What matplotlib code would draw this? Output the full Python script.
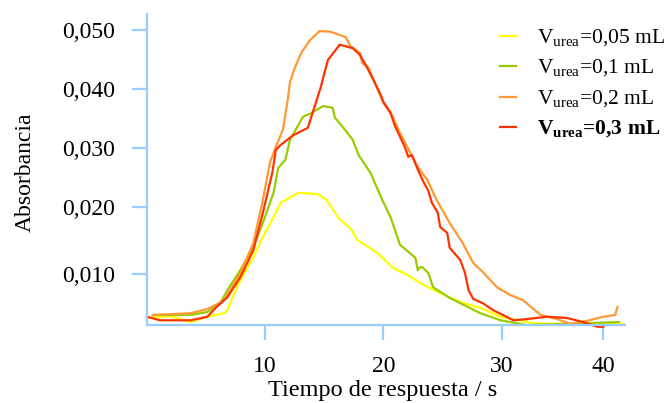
import matplotlib
matplotlib.use('Agg')
import matplotlib.pyplot as plt

plt.rcParams['font.family'] = ['Liberation Serif', 'DejaVu Serif']
plt.rcParams['mathtext.fontset'] = 'custom'
plt.rcParams['mathtext.rm'] = 'Liberation Serif'
plt.rcParams['mathtext.bf'] = 'Liberation Serif:bold'

# tiempo (s) / absorbancia
t_005 = [0.0, 2.0, 3.7, 5.1, 6.5, 6.8, 7.6, 7.9, 9.0, 9.8, 10.7, 11.3, 12.8, 14.4,
         15.2, 16.2, 17.2, 17.8, 19.5, 20.8, 22.0, 23.4, 24.8, 26.5, 28.2, 29.9,
         32.7, 34.9, 37.5, 40.3]
a_005 = [0.0012, 0.0015, 0.0005, 0.0014, 0.0020, 0.0025, 0.0064, 0.0076, 0.0115,
         0.0149, 0.0183, 0.0207, 0.0224, 0.0222, 0.0212, 0.0181, 0.0164, 0.0144,
         0.0122, 0.0097, 0.0085, 0.0068, 0.0054, 0.0039, 0.0029, 0.0014, 0.0003,
         0.0002, 0.0002, 0.0002]

t_01 = [0.5, 3.7, 5.1, 6.2, 6.8, 7.9, 9.0, 9.8, 10.7, 11.1, 11.7, 12.1, 13.2, 13.8,
        14.9, 15.7, 15.9, 16.3, 17.4, 17.9, 18.9, 19.9, 20.6, 21.4, 22.7, 22.9,
        23.1, 23.3, 23.8, 24.2, 25.6, 27.1, 28.2, 29.9, 32.1, 35.5, 39.9]
a_01 = [0.0017, 0.0017, 0.0022, 0.0037, 0.0059, 0.0093, 0.0132, 0.0173, 0.0224,
        0.0266, 0.0280, 0.0314, 0.0353, 0.0358, 0.0371, 0.0368, 0.0351, 0.0342,
        0.0314, 0.0288, 0.0258, 0.0212, 0.0183, 0.0136, 0.0114, 0.0093, 0.0098,
        0.0098, 0.0088, 0.0064, 0.0046, 0.0031, 0.0020, 0.0008, 0.0000, 0.0002,
        0.0005]

t_02 = [0.5, 3.7, 5.1, 6.2, 6.6, 7.9, 9.0, 9.8, 10.4, 10.9, 11.5, 11.9, 12.1, 12.5,
        13.1, 13.8, 14.6, 15.5, 16.8, 17.2, 18.0, 18.2, 18.7, 19.1, 20.0, 20.6,
        21.4, 22.0, 22.9, 23.7, 24.5, 25.6, 26.7, 27.6, 28.4, 29.6, 30.7, 31.8,
        33.3, 34.7, 35.8, 37.2, 38.6, 39.6, 39.8]
a_02 = [0.0017, 0.0020, 0.0027, 0.0038, 0.0044, 0.0088, 0.0139, 0.0212, 0.0275,
        0.0302, 0.0331, 0.0381, 0.0412, 0.0436, 0.0463, 0.0483, 0.0498, 0.0497,
        0.0488, 0.0473, 0.0461, 0.0444, 0.0437, 0.0419, 0.0376, 0.0361, 0.0325,
        0.0302, 0.0268, 0.0246, 0.0212, 0.0173, 0.0139, 0.0105, 0.0090, 0.0064,
        0.0051, 0.0042, 0.0017, 0.0010, 0.0002, 0.0007, 0.0014, 0.0017, 0.0031]

t_03 = [0.0, 1.1, 3.7, 5.1, 5.9, 6.8, 7.9, 9.0, 9.8, 10.6, 10.9, 11.3, 12.4, 13.6,
        14.0, 14.7, 15.3, 16.3, 17.4, 18.0, 18.6, 19.1, 19.7, 20.0, 20.6, 21.0,
        21.8, 22.1, 22.4, 22.9, 23.3, 23.8, 24.1, 24.6, 24.8, 25.4, 25.6, 26.5,
        26.9, 27.2, 27.6, 28.4, 29.3, 31.0, 32.1, 33.8, 35.5, 36.9, 38.1, 38.6]
a_03 = [0.0014, 0.0008, 0.0008, 0.0014, 0.0031, 0.0047, 0.0081, 0.0127, 0.0190,
        0.0258, 0.0297, 0.0305, 0.0322, 0.0334, 0.0359, 0.0403, 0.0449, 0.0475,
        0.0469, 0.0458, 0.0437, 0.0417, 0.0393, 0.0378, 0.0359, 0.0336, 0.0302,
        0.0285, 0.0288, 0.0264, 0.0246, 0.0227, 0.0207, 0.0190, 0.0166, 0.0156,
        0.0131, 0.0110, 0.0088, 0.0059, 0.0044, 0.0037, 0.0025, 0.0008, 0.0010,
        0.0014, 0.0012, 0.0005, -0.0003, -0.0003]

labels = [r'V$_{\mathrm{urea}}$=0,05 mL', r'V$_{\mathrm{urea}}$=0,1 mL',
          r'V$_{\mathrm{urea}}$=0,2 mL', r'V$_{\mathbf{urea}}$=0,3 mL']
colors = ['#FFFF00', '#99CC00', '#FF9933', '#FF3300']

xtick_pos = [10, 20, 30, 38.6]
xtick_labels = ['10', '20', '30', '40']
ytick_pos = [0.0086, 0.020, 0.030, 0.040, 0.050]
ytick_labels = ['0,010', '0,020', '0,030', '0,040', '0,050']

fig = plt.figure(figsize=(6.66, 4.03), dpi=100)
ax = fig.add_axes([0.2207, 0.1935, 0.7177, 0.7718])

series = [(t_005, a_005), (t_01, a_01), (t_02, a_02), (t_03, a_03)]
for (t, a), c, lab in zip(series, colors, labels):
    ax.plot(t, a, color=c, lw=1.6, label=lab, clip_on=False)

ax.set_xlim(0, 40.43)
ax.set_ylim(0, 0.0527)
ax.set_xticks(xtick_pos)
ax.set_xticklabels(xtick_labels)
ax.set_yticks(ytick_pos)
ax.set_yticklabels(ytick_labels)

for s in ['top', 'right']:
    ax.spines[s].set_visible(False)
for s in ['left', 'bottom']:
    ax.spines[s].set_color('#99CCFF')
    ax.spines[s].set_linewidth(1.6)
ax.tick_params(axis='both', colors='#99CCFF', width=1.6, length=11,
               labelcolor='black', labelsize=17)
ax.tick_params(axis='x', pad=11)
ax.tick_params(axis='y', pad=12)

ax.set_xlabel('Tiempo de respuesta / s', fontsize=17.5)
ax.xaxis.set_label_coords(0.492, -0.212)
ax.xaxis.label.set_va('center')
ax.set_ylabel('Absorbancia', fontsize=17)
ax.yaxis.set_label_coords(-0.255, 0.492)
ax.yaxis.label.set_va('center')

leg = ax.legend(loc='upper left', bbox_to_anchor=(500 / 666, 1 - 28 / 403),
                bbox_transform=fig.transFigure, frameon=False, fontsize=15.5,
                handlelength=0.75, handletextpad=0.95, labelspacing=0.42,
                borderpad=0, borderaxespad=0)
leg.get_texts()[3].set_fontweight('bold')
for h in leg.get_lines():
    h.set_linewidth(1.6)

fig.savefig('out.png', dpi=100)
